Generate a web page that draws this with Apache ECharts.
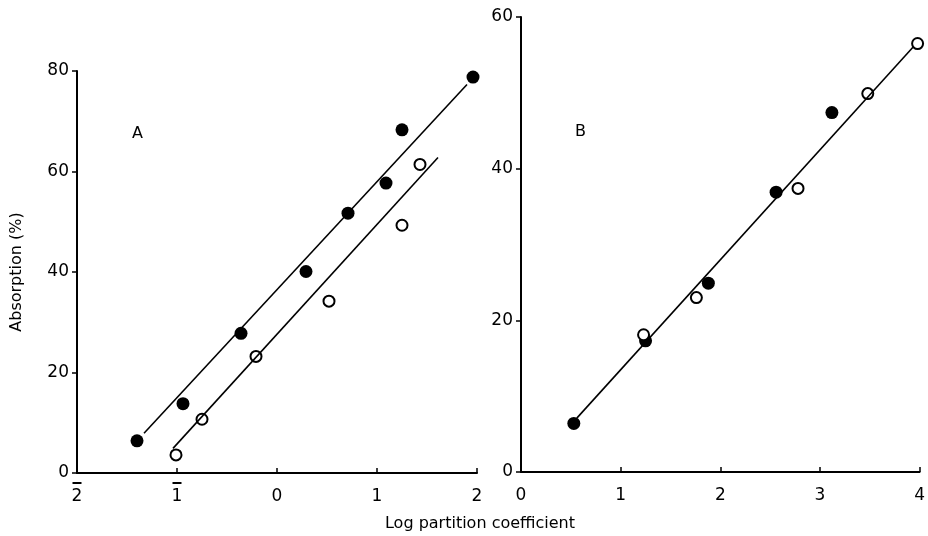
<!DOCTYPE html>
<html>
<head>
<meta charset="utf-8">
<script src="https://cdn.jsdelivr.net/npm/echarts@6/dist/echarts.min.js"></script>
<style>
  html, body { margin: 0; padding: 0; background: #fff; }
  #chart { width: 928px; height: 536px; }
</style>
</head>
<body>
<div id="chart"></div>
<script>
// panel A: filled and open points, and the two fitted lines
var aFilled = [[-1.40, 6.4], [-0.94, 13.8], [-0.36, 27.8], [0.29, 40.1], [0.71, 51.7], [1.09, 57.7], [1.25, 68.3], [1.96, 78.8]];
var aOpen = [[-1.01, 3.6], [-0.75, 10.7], [-0.21, 23.2], [0.52, 34.2], [1.25, 49.3], [1.43, 61.4]];
var aFilledLine = [[-1.33, 7.9], [1.90, 77.3]];
var aOpenLine = [[-1.04, 4.9], [1.61, 62.8]];

// panel B
var bFilled = [[0.53, 6.4], [1.25, 17.3], [1.88, 24.9], [2.56, 36.9], [3.12, 47.4]];
var bOpen = [[1.23, 18.1], [1.76, 23.0], [2.78, 37.4], [3.48, 49.9], [3.98, 56.5]];
var bLine = [[0.56, 7.1], [3.94, 56.1]];

var FONT = 'DejaVu Sans';

var myChart = echarts.init(document.getElementById('chart'));

// log notation: -2 is written as 2 with a bar over it
function barLabel(v) {
  if (v < 0) return '{o| }\n{n|' + (-v) + '}';
  return '{e| }\n{n|' + v + '}';
}

function axisX(idx, min, max) {
  return {
    type: 'value', gridIndex: idx, min: min, max: max, interval: 1,
    axisLine: { show: true, onZero: false, lineStyle: { color: '#000', width: 2 } },
    axisTick: { show: true, inside: true, length: 5, lineStyle: { color: '#000', width: 1.5 } },
    axisLabel: {
      color: '#000', margin: 6, formatter: barLabel,
      rich: {
        o: { width: 9, height: 2, lineHeight: 8, fontSize: 2, backgroundColor: '#000' },
        e: { width: 9, height: 2, lineHeight: 8, fontSize: 2 },
        n: { fontSize: 17, fontFamily: FONT, lineHeight: 20, color: '#000' }
      }
    },
    splitLine: { show: false }
  };
}
function axisY(idx, max, name) {
  return {
    type: 'value', gridIndex: idx, min: 0, max: max, interval: 20,
    name: name, nameLocation: 'middle', nameGap: 52, nameRotate: 90,
    nameTextStyle: { color: '#000', fontSize: 16, fontFamily: FONT },
    axisLine: { show: true, onZero: false, lineStyle: { color: '#000', width: 2 } },
    axisTick: { show: true, length: 5, lineStyle: { color: '#000', width: 1.5 } },
    axisLabel: { color: '#000', fontSize: 17, fontFamily: FONT, margin: 8 },
    splitLine: { show: false }
  };
}

var filledStyle = { color: '#000', opacity: 1 };
var openStyle = { color: '#fff', borderColor: '#000', borderWidth: 2, opacity: 1 };

var option = {
  animation: false,
  backgroundColor: '#fff',
  title: [
    { text: 'A', left: 127, top: 121, textStyle: { fontSize: 16, fontWeight: 'normal', fontFamily: FONT, color: '#000' } },
    { text: 'B', left: 570, top: 119, textStyle: { fontSize: 16, fontWeight: 'normal', fontFamily: FONT, color: '#000' } },
    { text: 'Log partition coefficient', left: 475, top: 511, textAlign: 'center',
      textStyle: { fontSize: 16, fontWeight: 'normal', fontFamily: FONT, color: '#000' } }
  ],
  grid: [
    { left: 77, top: 71, width: 400, height: 402 },
    { left: 521, top: 17, width: 400, height: 455 }
  ],
  xAxis: [
    axisX(0, -2, 2),
    axisX(1, 0, 4)
  ],
  yAxis: [
    axisY(0, 80, 'Absorption (%)'),
    axisY(1, 60, '')
  ],
  series: [
    { type: 'line', xAxisIndex: 0, yAxisIndex: 0, data: aFilledLine, showSymbol: false, lineStyle: { color: '#000', width: 1.6 } },
    { type: 'line', xAxisIndex: 0, yAxisIndex: 0, data: aOpenLine, showSymbol: false, lineStyle: { color: '#000', width: 1.6 } },
    { type: 'line', xAxisIndex: 1, yAxisIndex: 1, data: bLine, showSymbol: false, lineStyle: { color: '#000', width: 1.6 } },
    { type: 'scatter', xAxisIndex: 0, yAxisIndex: 0, data: aFilled, symbolSize: 13, itemStyle: filledStyle },
    { type: 'scatter', xAxisIndex: 0, yAxisIndex: 0, data: aOpen, symbolSize: 11, itemStyle: openStyle },
    { type: 'scatter', xAxisIndex: 1, yAxisIndex: 1, data: bFilled, symbolSize: 13, itemStyle: filledStyle },
    { type: 'scatter', xAxisIndex: 1, yAxisIndex: 1, data: bOpen, symbolSize: 11, itemStyle: openStyle }
  ]
};
myChart.setOption(option);
</script>
</body>
</html>
